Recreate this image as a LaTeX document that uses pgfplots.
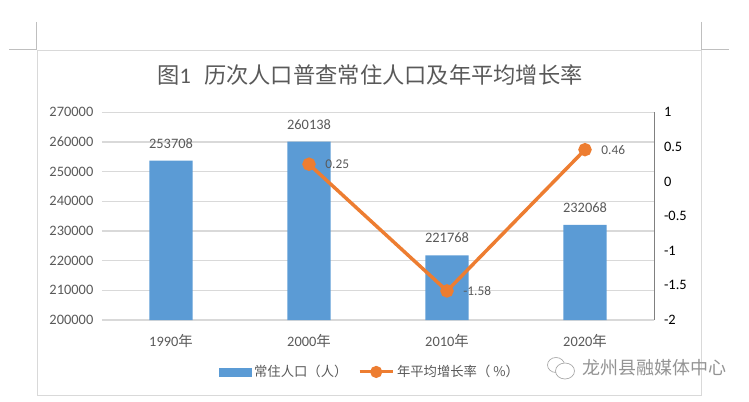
\documentclass[border=0pt]{standalone}
\usepackage{fontspec}
\setmainfont{Carlito}
\newfontfamily\cjk{Noto Sans CJK SC}
\usepackage{pgfplots}
\usepackage{pgfplotstable}
\pgfplotsset{compat=1.18}
\definecolor{barblue}{HTML}{5B9BD5}
\definecolor{lineorange}{HTML}{ED7D31}
\definecolor{txtgray}{HTML}{595959}
\definecolor{gridgray}{HTML}{D9D9D9}

\pgfplotstableread{
x pop lab
0 253708 253708
1 260138 260138
2 221768 221768
3 232068 232068
}\popdata
\pgfplotstableread{
x rate lab
1 0.25 0.25
2 -1.58 -1.58
3 0.46 0.46
}\ratedata

\begin{document}
\begin{tikzpicture}
% page and chart frame, in pixels of the reference
\begin{scope}[x=0.75pt,y=-0.75pt,yshift=300.75pt]
\path (0,0) rectangle (749,401);
\draw[gridgray,line width=0.9pt] (37.5,50.5) rectangle (701.5,395.5);
\draw[gray!50,line width=0.7pt] (36.5,22) -- (36.5,49.5) -- (9,49.5);
\draw[gray!50,line width=0.7pt] (701.5,22) -- (701.5,49.5) -- (729,49.5);
\node[text=txtgray,font=\fontsize{16.7}{20}\selectfont,anchor=center] at (370,75) {{\cjk 图}1\hspace{0.6em}{\cjk 历次人口普查常住人口及年平均增长率}};
\end{scope}

\begin{axis}[
  at={(76.5pt,60.75pt)},anchor=south west,
  scale only axis,width=414pt,height=155.8pt,
  xmin=-0.5,xmax=3.5,ymin=200000,ymax=270000,
  scaled y ticks=false,
  xtick={0,1,2,3},
  xticklabels={1990{\cjk 年},2000{\cjk 年},2010{\cjk 年},2020{\cjk 年}},
  ytick={200000,210000,220000,230000,240000,250000,260000,270000},
  yticklabels={200000,210000,220000,230000,240000,250000,260000,270000},
  axis y line*=left,axis x line*=bottom,
  x axis line style={gridgray,line width=0.9pt,-},
  y axis line style={draw=none},
  major tick style={draw=none},
  ymajorgrids,grid style={gridgray,line width=0.9pt},
  tick label style={text=txtgray,font=\fontsize{10.8}{12}\selectfont},
  xticklabel style={yshift=-3pt},
  yticklabel style={xshift=-3pt},
  ybar,bar width=32.3pt,
  clip=false,
]
\addplot[fill=barblue,draw=none,bar shift=0pt,
  nodes near coords,point meta=explicit symbolic,
  every node near coord/.append style={anchor=center,yshift=13pt,text=txtgray,font=\fontsize{10.8}{12}\selectfont}]
  table[x=x,y=pop,meta=lab] {\popdata};
\end{axis}

\begin{axis}[
  at={(76.5pt,60.75pt)},anchor=south west,
  scale only axis,width=414pt,height=155.8pt,
  xmin=-0.5,xmax=3.5,ymin=-2,ymax=1,
  axis y line*=right,axis x line=none,
  y axis line style={gray,line width=0.7pt,-},
  major tick style={draw=none},
  ytick={-2,-1.5,-1,-0.5,0,0.5,1},
  yticklabels={-2,-1.5,-1,-0.5,0,0.5,1},
  yticklabel style={anchor=west,xshift=4pt,text=black,font=\fontsize{10.8}{12}\selectfont},
  clip=false,
  legend style={at={(0.486,-0.25)},anchor=center,draw=none,fill=none,legend columns=2,
    font=\fontsize{10}{12}\selectfont,text=txtgray,
    /tikz/every even column/.append style={column sep=6pt}},
]
\addlegendimage{legend image code/.code={\fill[barblue] (0cm,-2.9pt) rectangle (24pt,2.9pt);}}
\addplot[lineorange,line width=2.6pt,mark=*,mark size=3.7pt,
  mark options={fill=lineorange,draw=none},
  legend image code/.code={\draw[lineorange,line width=2.2pt] (0pt,0pt) -- (25pt,0pt);
    \fill[lineorange] (12.5pt,0pt) circle (3.2pt);},
  nodes near coords,point meta=explicit symbolic,
  every node near coord/.append style={anchor=west,xshift=10pt,yshift=0pt,text=txtgray,font=\fontsize{10}{12}\selectfont,inner sep=1pt}]
  table[x=x,y=rate,meta=lab] {\ratedata};
\legend{{\cjk 常住人口（人）},{\cjk 年平均增长率（ \%）}}
\end{axis}

% watermark
\begin{scope}[x=0.75pt,y=-0.75pt,yshift=300.75pt]
\node[text=gray!85,font=\fontsize{13.5}{16}\selectfont\cjk,anchor=west,inner sep=0pt] at (582,368) {龙州县融媒体中心};
\draw[gray!70,line width=0.5pt,fill=white] (556,365) ellipse (8.5 and 7.5);
\draw[gray!70,line width=0.5pt,fill=white] (565,371) ellipse (9.5 and 8);
\end{scope}
\end{tikzpicture}
\end{document}
